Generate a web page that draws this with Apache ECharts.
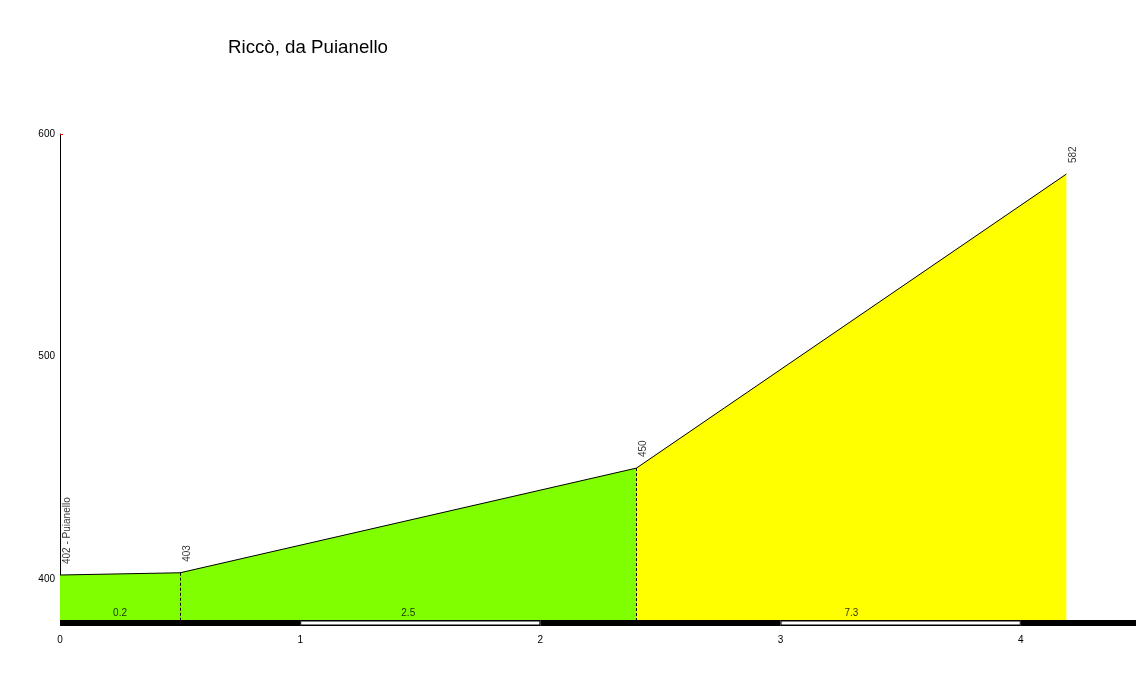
<!DOCTYPE html>
<html><head><meta charset="utf-8">
<script src="https://cdn.jsdelivr.net/npm/echarts@6/dist/echarts.min.js"></script>
<style>html,body{margin:0;padding:0;background:#fff}#c{width:1136px;height:673px}</style>
</head><body><div id="c"></div>
<script>
// Profile points (km, altitude m)
var distKm = [0, 0.5, 2.4, 4.19];
var altitude = [402, 403, 450, 582];
var pointLabels = ['402 - Puianello', '403', '450', '582'];
// Gradient (%) per segment
var gradeText = ['0.2', '2.5', '7.3'];
// Colour segments: green up to km 2.4, yellow after
var greenIdx = [0, 1, 2];
var yellowIdx = [2, 3];
// km bands on the bottom bar
var bandStart = [0, 1, 2, 3, 4];
var bandEnd = [1, 2, 3, 4, 4.48];
var yTicks = [400, 500, 600];

var Y_MIN = 381.8, Y_MAX = 600, X_MAX = 4.48;
var FONT = '"Liberation Sans", Arial, sans-serif';

var greenData = greenIdx.map(function(i){return [distKm[i], altitude[i]];});
var yellowData = yellowIdx.map(function(i){return [distKm[i], altitude[i]];});
var labelData = distKm.map(function(d,i){return {value:[d, altitude[i]], name:pointLabels[i]};});
var gradeData = gradeText.map(function(t,i){return {value:[(distKm[i]+distKm[i+1])/2, Y_MIN], name:t};});
var bandData = bandStart.map(function(s,i){return [s, bandEnd[i], i % 2];});
var dashData = [1,2].map(function(i){return [{coord:[distKm[i], altitude[i]]},{coord:[distKm[i], Y_MIN]}];});

var chart = echarts.init(document.getElementById('c'), null, {renderer:'canvas'});
chart.setOption({
  animation:false,
  backgroundColor:'#ffffff',
  title:{text:'Riccò, da Puianello', left:223, top:33,
    textStyle:{fontFamily:FONT, fontSize:18.7, fontWeight:'normal', color:'#000'}},
  grid:{left:60, right:0, top:134, bottom:53},
  xAxis:{type:'value', min:0, max:X_MAX, interval:1,
    axisLine:{show:false}, axisTick:{show:false}, splitLine:{show:false},
    axisLabel:{margin:15, fontFamily:FONT, fontSize:10, color:'#000', showMaxLabel:false}},
  yAxis:{type:'value', min:Y_MIN, max:Y_MAX,
    axisLine:{show:true, lineStyle:{color:'#000', width:1}},
    axisTick:{show:true, inside:true, length:3, customValues:[600], lineStyle:{color:'#ff0000'}},
    splitLine:{show:false},
    axisLabel:{customValues:yTicks, margin:5, fontFamily:FONT, fontSize:10, color:'#000'}},
  series:[
    {type:'line', data:greenData, symbol:'none', z:2,
      lineStyle:{color:'#000', width:1}, areaStyle:{color:'#80ff00', opacity:1, origin:'start'},
      markLine:{silent:true, symbol:['none','none'], label:{show:false},
        lineStyle:{color:'#000', width:1, type:[3,2]}, data:dashData}},
    {type:'line', data:yellowData, symbol:'none', z:2,
      lineStyle:{color:'#000', width:1}, areaStyle:{color:'#ffff00', opacity:1, origin:'start'}},
    {type:'scatter', data:labelData, symbolSize:0, z:5, silent:true,
      label:{show:true, formatter:'{b}', position:'top', distance:11, rotate:90,
        align:'left', verticalAlign:'middle', offset:[0,7],
        fontFamily:FONT, fontSize:10, color:'#000'}},
    {type:'scatter', data:gradeData, symbolSize:0, z:5, silent:true,
      label:{show:true, formatter:'{b}', position:'top', distance:2,
        fontFamily:FONT, fontSize:10, color:'#000'}},
    {type:'custom', data:bandData, clip:false, z:6, silent:true,
      renderItem:function(params, api){
        var p0 = api.coord([api.value(0), Y_MIN]);
        var p1 = api.coord([api.value(1), Y_MIN]);
        var w = p1[0]-p0[0];
        var children = [{type:'rect', shape:{x:p0[0], y:p0[1], width:w, height:6}, style:{fill:'#000'}}];
        if (api.value(2) === 1) {
          children.push({type:'rect', shape:{x:p0[0]+1, y:p0[1]+1.5, width:w-2, height:3}, style:{fill:'#fff'}});
        }
        return {type:'group', children:children};
      }}
  ]
});
</script></body></html>
